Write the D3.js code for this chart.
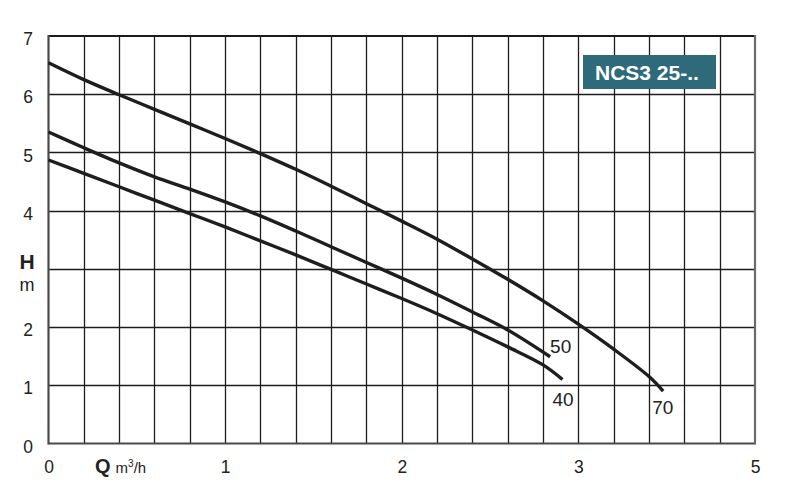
<!DOCTYPE html>
<html>
<head>
<meta charset="utf-8">
<script src="https://cdn.jsdelivr.net/npm/d3@7"></script>
<style>
  html, body { margin: 0; padding: 0; background: #fff; }
  svg { display: block; font-family: "Liberation Sans", Arial, sans-serif; }
</style>
</head>
<body>
<svg id="chart" width="797" height="497"></svg>
<script>
// ---- data ----
const chartTitle = "NCS3 25-..";
const seriesNames = ["70", "50", "40"];
const flow70 = [0, 0.2, 0.4, 0.6, 0.8, 1.0, 1.2, 1.4, 1.6, 1.8, 2.0, 2.2, 2.4, 2.6, 2.8, 3.0, 3.2, 3.4, 3.48];
const head70 = [6.54, 6.25, 5.99, 5.74, 5.49, 5.24, 4.98, 4.71, 4.42, 4.12, 3.82, 3.51, 3.17, 2.82, 2.45, 2.05, 1.62, 1.15, 0.90];
const flow50 = [0, 0.2, 0.4, 0.6, 0.8, 1.0, 1.2, 1.4, 1.6, 1.8, 2.0, 2.2, 2.4, 2.6, 2.84];
const head50 = [5.35, 5.08, 4.82, 4.58, 4.37, 4.15, 3.91, 3.65, 3.38, 3.11, 2.84, 2.56, 2.26, 1.95, 1.49];
const flow40 = [0, 0.2, 0.4, 0.6, 0.8, 1.0, 1.2, 1.4, 1.6, 1.8, 2.0, 2.2, 2.4, 2.6, 2.8, 2.91];
const head40 = [4.87, 4.64, 4.41, 4.18, 3.95, 3.72, 3.48, 3.24, 2.99, 2.74, 2.49, 2.23, 1.95, 1.66, 1.35, 1.10];
const xTickValues = [0, 1, 2, 3, 4];
const xTickLabels = ["0", "1", "2", "3", "5"];
const yTickValues = [0, 1, 2, 3, 4, 5, 6, 7];
const yTickLabels = ["0", "1", "2", "", "4", "5", "6", "7"];
const xGridStep = 0.2;

// ---- chart ----
const svg = d3.select("#chart");
const x = d3.scaleLinear().domain([0, 4]).range([48.5, 755]);
const y = d3.scaleLinear().domain([0, 7]).range([443.5, 36]);

svg.append("rect").attr("width", 797).attr("height", 497).attr("fill", "#fff");

// grid
const g = svg.append("g");
const xGrid = d3.range(1, Math.round(4 / xGridStep)).map(i => i * xGridStep);
g.selectAll("line.vg").data(xGrid).join("line")
  .attr("x1", d => Math.round(x(d)) + 0.5).attr("x2", d => Math.round(x(d)) + 0.5)
  .attr("y1", y(7)).attr("y2", y(0))
  .attr("stroke", "#1c1c1c").attr("stroke-width", 1.3);
g.selectAll("line.hg").data(yTickValues.slice(1, -1)).join("line")
  .attr("x1", x(0)).attr("x2", x(4))
  .attr("y1", d => Math.round(y(d)) + 0.5).attr("y2", d => Math.round(y(d)) + 0.5)
  .attr("stroke", "#1c1c1c").attr("stroke-width", 1.3);

// frame
g.append("line").attr("x1", x(0)).attr("x2", x(4)).attr("y1", y(7)).attr("y2", y(7))
  .attr("stroke", "#1c1c1c").attr("stroke-width", 2);
g.append("line").attr("x1", x(0)).attr("x2", x(4)).attr("y1", y(0)).attr("y2", y(0))
  .attr("stroke", "#4a4a4a").attr("stroke-width", 2.2);
g.append("line").attr("x1", x(0)).attr("x2", x(0)).attr("y1", y(7) - 1).attr("y2", y(0) + 1)
  .attr("stroke", "#4a4a4a").attr("stroke-width", 2.2);
g.append("line").attr("x1", x(4)).attr("x2", x(4)).attr("y1", y(7) - 1).attr("y2", y(0) + 1)
  .attr("stroke", "#6a6a6a").attr("stroke-width", 2.2);

// axes (labels only)
const xAxis = d3.axisBottom(x).tickValues(xTickValues)
  .tickFormat((d, i) => xTickLabels[i]).tickSize(0).tickPadding(0);
const xa = svg.append("g").attr("transform", `translate(0,${y(0)})`).call(xAxis);
xa.select(".domain").remove();
xa.selectAll("text").attr("y", 29).attr("dy", 0)
  .attr("font-size", 17.5).attr("fill", "#222").attr("font-family", "Liberation Sans, Arial, sans-serif");

const yAxis = d3.axisLeft(y).tickValues(yTickValues)
  .tickFormat((d, i) => yTickLabels[i]).tickSize(0).tickPadding(0);
const ya = svg.append("g").attr("transform", `translate(28,0)`).call(yAxis);
ya.select(".domain").remove();
ya.selectAll("text").attr("x", 0).attr("text-anchor", "middle").attr("dy", "0.38em")
  .attr("transform", "translate(0,2)")
  .attr("font-size", 17.5).attr("fill", "#222").attr("font-family", "Liberation Sans, Arial, sans-serif");

// axis titles
svg.append("text").attr("x", 27).attr("y", 269).attr("text-anchor", "middle")
  .attr("font-size", 21).attr("font-weight", "bold").attr("fill", "#222").text("H");
svg.append("text").attr("x", 27).attr("y", 291).attr("text-anchor", "middle")
  .attr("font-size", 18).attr("fill", "#222").text("m");
const qt = svg.append("text").attr("x", 95).attr("y", 473).attr("fill", "#222");
qt.append("tspan").attr("font-size", 20).attr("font-weight", "bold").text("Q");
qt.append("tspan").attr("dx", 5).attr("font-size", 15).text("m");
qt.append("tspan").attr("font-size", 10).attr("dy", -6).text("3");
qt.append("tspan").attr("font-size", 15).attr("dy", 6).text("/h");

// curves
const line = d3.line().x(d => x(d[0])).y(d => y(d[1])).curve(d3.curveCatmullRom.alpha(0.5));
const seriesData = [
  flow70.map((q, i) => [q, head70[i]]),
  flow50.map((q, i) => [q, head50[i]]),
  flow40.map((q, i) => [q, head40[i]])
];
svg.append("g").selectAll("path").data(seriesData).join("path")
  .attr("d", line).attr("fill", "none")
  .attr("stroke", "#1e1e1e").attr("stroke-width", 3.4);

// curve labels (offset from each curve end)
const labelOffsets = [[-11, 23], [0, -4], [-10, 27]];
svg.append("g").selectAll("text").data(seriesData).join("text")
  .attr("x", (d, i) => x(d[d.length - 1][0]) + labelOffsets[i][0])
  .attr("y", (d, i) => y(d[d.length - 1][1]) + labelOffsets[i][1])
  .attr("font-size", 19).attr("fill", "#222")
  .text((d, i) => seriesNames[i]);

// title box
svg.append("rect").attr("x", 583).attr("y", 55).attr("width", 133).attr("height", 34)
  .attr("fill", "#2e6a7a");
svg.append("text").attr("x", 595).attr("y", 79.5)
  .attr("font-size", 21).attr("font-weight", "bold").attr("fill", "#fff").text(chartTitle);
</script>
</body>
</html>
